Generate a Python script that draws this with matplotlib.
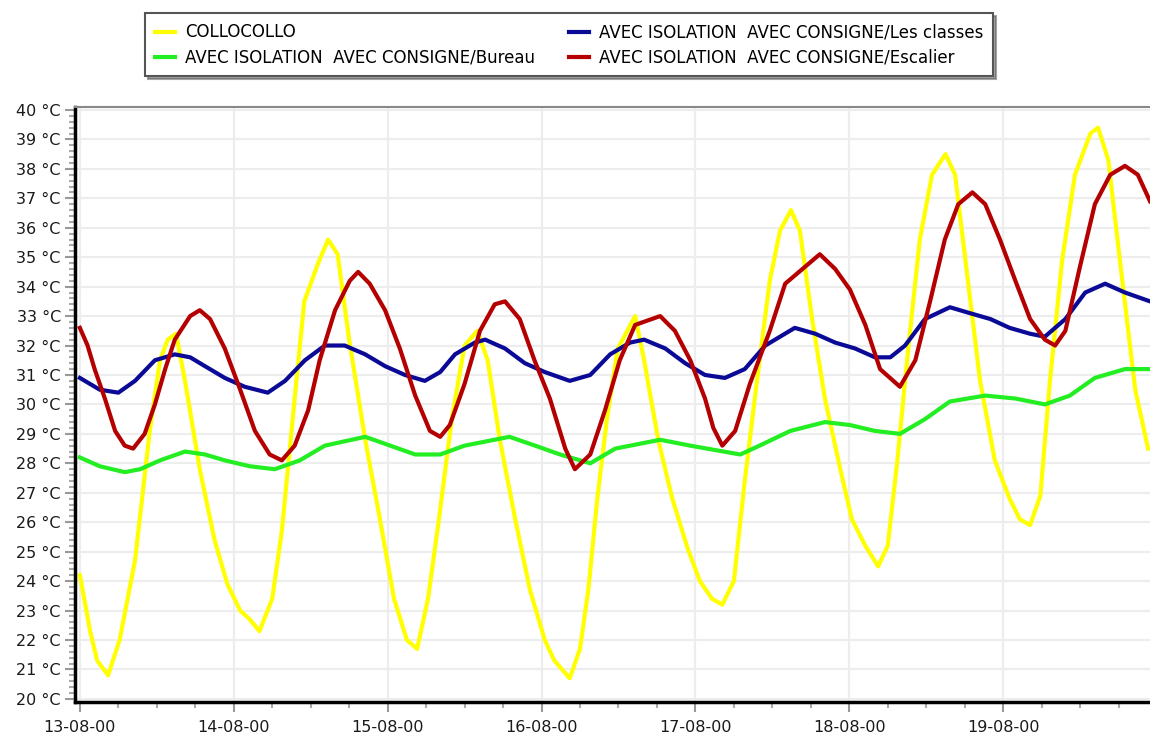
import matplotlib
matplotlib.use("Agg")
import matplotlib.pyplot as plt
from matplotlib.ticker import MultipleLocator, AutoMinorLocator, FuncFormatter

# hours since 13-08-00 00:00, temperatures in degC
collo_h = [0, 1.6, 2.7, 4.4, 6.2, 8.6, 10.9, 12.5, 13.7, 15.0, 16.4, 18.7, 21.0, 23.0,
           25.0, 26.5, 28.0, 30.0, 31.5, 33.5, 35.0, 37.0, 38.7, 40.2, 42.0, 44.5, 46.8,
           49.0, 51.0, 52.6, 54.3, 56.0, 58.0, 60.0, 62.0, 63.6, 65.5, 67.9, 70.2, 72.5,
           74.0, 76.4, 78.0, 79.3, 80.7, 82.2, 83.9, 86.6, 88.0, 90.2, 92.4, 94.8, 96.7,
           98.6, 100.2, 102.0, 103.7, 105.6, 107.6, 109.2, 110.9, 112.3, 114.2, 116.2,
           118.6, 120.4, 122.5, 124.5, 126.0, 127.5, 129.2, 131.0, 132.9, 135.0, 136.5,
           138.5, 140.4, 142.7, 145.0, 146.6, 148.2, 149.8, 151.3, 153.2, 155.2, 157.6,
           158.8, 160.4, 162.2, 164.6, 166.6]
collo_t = [24.2, 22.3, 21.3, 20.8, 22.0, 24.7, 29.1, 31.5, 32.2, 32.4, 30.8, 27.8, 25.4, 23.9,
           23.0, 22.7, 22.3, 23.4, 25.7, 30.2, 33.5, 34.7, 35.6, 35.1, 32.2, 28.8, 26.1,
           23.4, 22.0, 21.7, 23.4, 26.1, 29.5, 32.0, 32.5, 31.5, 28.8, 26.1, 23.7, 22.0,
           21.3, 20.7, 21.7, 23.7, 26.8, 29.5, 31.9, 33.0, 31.5, 28.8, 26.8, 25.1, 24.0,
           23.4, 23.2, 24.0, 27.4, 30.8, 34.2, 35.9, 36.6, 35.9, 32.9, 30.2,
           27.8, 26.1, 25.2, 24.5, 25.2, 28.1, 31.9, 35.6, 37.8, 38.5, 37.8,
           34.2, 30.8, 28.1, 26.8, 26.1, 25.9, 26.9, 30.8, 34.9, 37.8, 39.2,
           39.4, 38.3, 34.9, 30.5, 28.5]

bureau_h = [0, 3.1, 7.0, 9.4, 12.5, 16.4, 19.5, 22.6, 26.5, 30.4, 34.3, 38.2, 44.5, 48.4,
            52.3, 56.2, 60.0, 67.0, 71.0, 74.9, 79.6, 83.5, 90.5, 95.2, 103.0, 106.0,
            110.8, 116.2, 120.1, 124.0, 127.9, 131.8, 135.7, 141.2, 145.9, 150.5, 154.4,
            158.3, 163.0, 166.9]
bureau_t = [28.2, 27.9, 27.7, 27.8, 28.1, 28.4, 28.3, 28.1, 27.9, 27.8, 28.1, 28.6, 28.9, 28.6,
            28.3, 28.3, 28.6, 28.9, 28.6, 28.3, 28.0, 28.5, 28.8, 28.6, 28.3, 28.6,
            29.1, 29.4, 29.3, 29.1, 29.0, 29.5, 30.1, 30.3, 30.2, 30.0, 30.3,
            30.9, 31.2, 31.2]

classes_h = [0, 3.1, 6.0, 8.6, 11.7, 14.8, 17.2, 19.5, 22.6, 25.7, 29.3, 32.0, 35.1, 38.2,
             41.3, 44.5, 47.6, 50.7, 53.8, 56.2, 58.5, 61.6, 63.2, 66.3, 69.4, 72.5, 76.4,
             79.6, 82.7, 85.8, 88.0, 91.3, 94.4, 97.5, 100.6, 103.7, 106.9, 111.5, 114.7,
             117.8, 120.9, 124.0, 126.4, 128.7, 131.8, 135.7, 138.8, 142.0, 145.0, 148.2,
             150.5, 153.7, 156.8, 159.9, 163.0, 166.9]
classes_t = [30.9, 30.5, 30.4, 30.8, 31.5, 31.7, 31.6, 31.3, 30.9, 30.6, 30.4, 30.8, 31.5, 32.0,
             32.0, 31.7, 31.3, 31.0, 30.8, 31.1, 31.7, 32.1, 32.2, 31.9, 31.4, 31.1, 30.8,
             31.0, 31.7, 32.1, 32.2, 31.9, 31.4, 31.0, 30.9, 31.2, 32.0, 32.6, 32.4,
             32.1, 31.9, 31.6, 31.6, 32.0, 32.9, 33.3, 33.1, 32.9, 32.6, 32.4,
             32.3, 32.9, 33.8, 34.1, 33.8, 33.5]

escalier_h = [0, 1.2, 2.3, 3.9, 5.5, 7.0, 8.3, 10.1, 11.7, 13.3, 14.8, 17.2, 18.7, 20.3,
              22.6, 25.0, 27.3, 29.6, 31.5, 33.5, 35.6, 37.4, 39.8, 42.1, 43.4, 45.2, 47.6,
              49.9, 52.3, 54.6, 56.2, 57.7, 60.0, 62.4, 64.7, 66.3, 68.6, 70.9, 73.3, 75.7,
              77.2, 79.6, 81.9, 84.2, 86.6, 90.5, 92.8, 95.2, 97.5, 98.8, 100.2, 102.2,
              104.5, 107.6, 110.0, 115.4, 117.8, 120.1, 122.5, 124.8, 127.9, 130.3, 132.6,
              134.9, 137.0, 139.2, 141.2, 143.5, 145.9, 148.2, 150.5, 152.1, 153.7, 156.0,
              158.3, 160.7, 163.0, 165.0, 166.9]
escalier_t = [32.6, 32.0, 31.2, 30.2, 29.1, 28.6, 28.5, 29.0, 30.0, 31.2, 32.2, 33.0, 33.2, 32.9,
              31.9, 30.5, 29.1, 28.3, 28.1, 28.6, 29.8, 31.5, 33.2, 34.2, 34.5, 34.1, 33.2,
              31.9, 30.3, 29.1, 28.9, 29.3, 30.7, 32.5, 33.4, 33.5, 32.9, 31.5, 30.2, 28.5,
              27.8, 28.3, 29.8, 31.5, 32.7, 33.0, 32.5, 31.5, 30.2, 29.2, 28.6, 29.1,
              30.7, 32.5, 34.1, 35.1, 34.6, 33.9, 32.7, 31.2, 30.6, 31.5, 33.5,
              35.6, 36.8, 37.2, 36.8, 35.6, 34.2, 32.9, 32.2, 32.0, 32.5, 34.7,
              36.8, 37.8, 38.1, 37.8, 36.9]

day_labels = ["13-08-00", "14-08-00", "15-08-00", "16-08-00", "17-08-00", "18-08-00", "19-08-00"]

series = [
    ("COLLOCOLLO", collo_h, collo_t, "#ffff00"),
    ("AVEC ISOLATION  AVEC CONSIGNE/Bureau", bureau_h, bureau_t, "#22ee22"),
    ("AVEC ISOLATION  AVEC CONSIGNE/Les classes", classes_h, classes_t, "#0a0a96"),
    ("AVEC ISOLATION  AVEC CONSIGNE/Escalier", escalier_h, escalier_t, "#b40000"),
]

fig = plt.figure(figsize=(11.5, 7.38), dpi=100)
ax = fig.add_axes([0.065, 0.049, 0.935, 0.806])

for name, h, t, col in series:
    ax.plot(h, t, color=col, lw=3.0, label=name, solid_joinstyle="round")

ax.set_xlim(-0.8, 166.9)
ax.set_ylim(19.9, 40.1)

ax.xaxis.set_major_locator(MultipleLocator(24))
ax.xaxis.set_minor_locator(MultipleLocator(6))
ax.xaxis.set_major_formatter(FuncFormatter(
    lambda v, p: day_labels[int(round(v / 24))] if 0 <= round(v / 24) < len(day_labels) else ""))
ax.yaxis.set_major_locator(MultipleLocator(1))
ax.yaxis.set_minor_locator(AutoMinorLocator(5))
ax.yaxis.set_major_formatter(FuncFormatter(lambda v, p: f"{v:.0f} °C"))

ax.grid(True, which="major", color="#ededed", lw=1.6)
ax.set_axisbelow(True)
ax.tick_params(which="major", length=7, width=1.5, color="#999999", labelsize=11.5,
               labelcolor="#1a1a1a")
ax.tick_params(which="minor", length=4, width=1.5, color="#aaaaaa")
ax.tick_params(axis="x", pad=6)
ax.tick_params(axis="y", pad=3)

for side in ("left", "bottom"):
    ax.spines[side].set_linewidth(2.5)
    ax.spines[side].set_color("black")
ax.spines["top"].set_color("#888888")
ax.spines["top"].set_linewidth(1.5)
ax.spines["right"].set_visible(False)

leg = fig.legend(loc="upper center", bbox_to_anchor=(0.495, 0.993), ncol=2,
                 fontsize=12, frameon=True, fancybox=False, shadow=True,
                 handlelength=1.2, handletextpad=0.6, columnspacing=2.0,
                 labelspacing=0.42, borderpad=0.6)
leg.get_frame().set_edgecolor("#555555")
leg.get_frame().set_linewidth(1.5)

fig.savefig("out.png", dpi=100)
